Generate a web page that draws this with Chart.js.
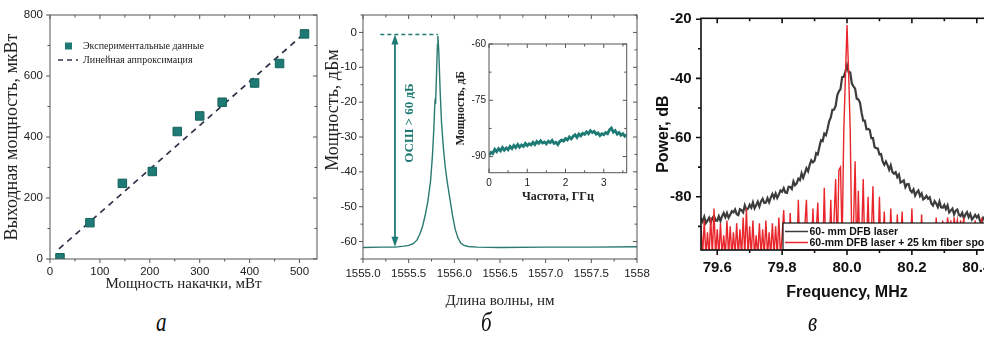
<!DOCTYPE html>
<html>
<head>
<meta charset="utf-8">
<script src="https://cdn.jsdelivr.net/npm/chart.js@4.4.1/dist/chart.umd.min.js"></script>
<style>
  html, body { margin: 0; padding: 0; background: #fff; }
  body { position: relative; width: 984px; height: 349px; overflow: hidden; }
  canvas { position: absolute; }
  .cap { position: absolute; font: italic 27px "Liberation Serif", serif; color: #111;
         transform: scaleX(0.78); transform-origin: left top; }
</style>
</head>
<body>
<canvas id="chartA" style="left:0;top:0" width="330" height="300"></canvas>
<canvas id="chartB" style="left:320px;top:0" width="340" height="315"></canvas>
<canvas id="chartInset" style="left:445px;top:30px" width="190" height="180"></canvas>
<canvas id="chartC" style="left:650px;top:0" width="360" height="310"></canvas>
<div class="cap" style="left:156px;top:307px">а</div>
<div class="cap" style="left:481px;top:307px">б</div>
<div class="cap" style="left:808px;top:307px">в</div>

<script>
// ---- панель а: выходная мощность ----
const pumpPower = [20, 80, 145, 205, 255, 300, 345, 410, 460, 510];
const outputPower = [4, 119, 248, 287, 418, 469, 514, 577, 641, 738];
const fitPump = [18, 510];
const fitOutput = [33, 740];
const ticksAX = [0, 100, 200, 300, 400, 500];
const minorAX = [50, 150, 250, 350, 450];
const ticksAY = [0, 200, 400, 600, 800];
const minorAY = [100, 300, 500, 700];

// ---- панель б: спектр ----
const wavelength = [1555.0, 1555.2, 1555.35, 1555.45, 1555.5, 1555.55, 1555.59, 1555.62, 1555.65, 1555.68,
  1555.71, 1555.74, 1555.76, 1555.775, 1555.785, 1555.79, 1555.795, 1555.805, 1555.815, 1555.82,
  1555.83, 1555.845, 1555.86, 1555.88, 1555.9, 1555.92, 1555.95, 1555.98, 1556.01, 1556.04,
  1556.07, 1556.1, 1556.15, 1556.25, 1556.5, 1557.0, 1557.5, 1558.0];
const spectrumPower = [-61.7, -61.6, -61.6, -61.3, -61.1, -60.6, -59.6, -58.0, -55.8, -52.6,
  -48.5, -42.5, -35.5, -28, -21.5, -19.0, -20.5, -12, -3.5, -1.0,
  -5.5, -17, -26, -33, -38.5, -42.5, -47.5, -52.5, -56.5, -59.0,
  -60.4, -61.0, -61.4, -61.6, -61.7, -61.6, -61.6, -61.5];
const ticksBX = [1555.0, 1555.5, 1556.0, 1556.5, 1557.0, 1557.5, 1558.0];
const labelsBX = ['1555.0', '1555.5', '1556.0', '1556.5', '1557.0', '1557.5', '1558'];
const minorBX = [1555.25, 1555.75, 1556.25, 1556.75, 1557.25, 1557.75];
const ticksBY = [0, -10, -20, -30, -40, -50, -60];
const minorBY = [5, -5, -15, -25, -35, -45, -55, -65];
// стрелка ОСШ
const snrWavelength = 1555.35;
const snrTop = -0.6;
const snrBottom = -61.5;
const snrDashFrom = 1555.19;
const snrDashTo = 1555.82;
const snrLabel = 'ОСШ > 60 дБ';

// вставка: шум
const insetFreqStep = 0.05;
const insetPower = [
  -89.6, -88.9, -89.2, -88.1, -88.7, -87.9, -88.5, -87.6, -88.3, -87.7,
  -88.2, -87.3, -87.9, -87.0, -87.6, -86.8, -87.5, -86.9, -87.3, -86.5,
  -87.1, -86.6, -86.9, -86.2, -86.8, -86.0, -86.5, -85.8, -86.4, -86.1,
  -86.6, -85.9, -86.3, -85.7, -86.5, -86.2, -86.8, -86.0, -85.6, -85.9,
  -85.2, -85.6, -84.8, -85.3, -84.6, -84.2, -84.9, -84.0, -84.5, -83.8,
  -84.1, -83.4, -83.9, -83.1, -83.6, -83.3, -84.0, -83.7, -84.4, -83.9,
  -84.2, -83.6, -83.9, -82.9, -82.4, -83.5, -83.1, -84.0, -83.6, -84.3,
  -83.9, -84.6, -84.2];
const ticksInsetX = [0, 1, 2, 3];
const minorInsetX = [0.5, 1.5, 2.5, 3.5];
const ticksInsetY = [-60, -75, -90];
const minorInsetY = [-67.5, -82.5];

// ---- панель в: спектр биений ----
const freqStart = 79.55;
const freqStep = 0.005;
const powerDFB = [
  -87.3, -88.4, -86.8, -88.9, -88.1, -87.1, -88.8, -87.2, -86.5, -88.0,
  -88.1, -86.6, -88.2, -86.6, -85.5, -86.9, -85.5, -87.1, -86.1, -84.9,
  -85.3, -84.3, -85.9, -86.2, -84.2, -84.5, -85.3, -82.9, -84.4, -84.0,
  -82.7, -83.7, -81.9, -83.9, -82.9, -81.7, -83.3, -81.6, -80.7, -82.1,
  -82.0, -80.5, -81.9, -80.3, -79.1, -80.4, -78.9, -80.4, -79.3, -77.9,
  -78.3, -77.1, -78.6, -78.7, -76.6, -76.7, -77.4, -74.8, -76.1, -75.5,
  -73.9, -74.4, -72.1, -73.6, -72.0, -70.4, -71.4, -69.2, -67.7, -68.4,
  -67.8, -65.3, -65.7, -63.1, -60.9, -61.2, -58.7, -59.2, -57.1, -54.5,
  -53.2, -50.6, -50.6, -49.3, -45.7, -44.4, -43.6, -39.6, -39.5, -37.7,
  -35.6, -37.9, -38.0, -41.8, -42.7, -43.5, -46.9, -47.1, -48.2, -51.6,
  -54.3, -54.3, -57.2, -57.1, -57.4, -60.2, -60.2, -63.2, -63.6, -63.7,
  -65.7, -65.6, -68.1, -69.2, -68.1, -69.3, -70.9, -69.4, -71.7, -72.2,
  -71.7, -73.4, -72.5, -75.2, -74.9, -74.5, -76.8, -75.8, -75.7, -77.8,
  -78.5, -77.5, -79.6, -78.5, -77.9, -79.8, -78.9, -80.9, -80.5, -79.7,
  -80.7, -80.2, -82.3, -83.0, -81.5, -82.3, -83.5, -81.6, -83.6, -83.7,
  -82.8, -84.2, -82.9, -85.3, -84.7, -84.0, -86.0, -84.7, -84.3, -86.1,
  -86.5, -85.4, -87.2, -86.0, -85.2, -86.9, -85.8, -87.7, -87.0, -86.1,
  -87.0, -86.3, -88.2, -88.8, -87.1, -87.7, -88.8, -86.7, -88.5, -88.4,
  -87.4, -88.7, -87.3, -89.6, -88.9, -88.1, -90.0, -88.5, -88.0, -89.7,
  -89.2];
const powerDFBFiber = [
  -90, -100, -88, -100, -92, -100, -87, -100, -84, -100,
  -91, -100, -89, -100, -93, -100, -88, -100, -90, -100,
  -92, -100, -89, -100, -91, -100, -87, -100, -84, -100,
  -90, -100, -88, -100, -93, -100, -89, -100, -91, -100,
  -88, -100, -92, -100, -89, -100, -90, -100, -87, -100,
  -93, -84.5, -99, -95, -100, -85.5, -100, -96, -92, -100,
  -81, -100, -94, -100, -90, -81, -100, -97, -100, -84,
  -100, -92, -82, -100, -95, -100, -77, -100, -91, -100,
  -81, -100, -88, -74, -98, -71, -70, -96, -58, -40,
  -22, -38, -58, -97, -90, -68, -100, -78, -100, -95,
  -74, -100, -97, -80, -100, -93, -76.5, -100, -98, -100,
  -80, -100, -96, -85, -100, -98, -100, -84, -100, -97,
  -100, -86, -100, -96, -85, -100, -99, -100, -97, -100,
  -84, -100, -98, -100, -95, -100, -86, -100, -97, -100,
  -99, -100, -94, -100, -98, -87, -100, -96, -100, -88,
  -100, -95, -87, -92, -88, -98, -87, -91, -88, -97,
  -88, -92, -87, -99, -89, -94, -100, -90, -96, -88,
  -99, -91, -100, -87, -95, -100, -89, -98, -93, -100,
  -90, -99, -94, -88, -100, -92, -97, -89, -100, -95,
  -91];
const ticksCX = [79.6, 79.8, 80.0, 80.2, 80.4];
const minorCX = [79.7, 79.9, 80.1, 80.3];
const ticksCY = [-20, -40, -60, -80];
const minorCY = [-30, -50, -70, -90];

const SANS = '"Liberation Sans", Arial, sans-serif';
const SERIF = '"Liberation Serif", "Times New Roman", serif';
const TEAL = '#1e7a74';

// рамка графика с засечками по всем четырём сторонам
const frameTicks = {
  id: 'frameTicks',
  afterDatasetsDraw(chart, args, o) {
    const { ctx, chartArea: a, scales: { x, y } } = chart;
    const out = o.inward ? -1 : 1;
    ctx.save();
    ctx.strokeStyle = o.color;
    ctx.lineWidth = o.lineWidth;
    ctx.strokeRect(a.left, a.top, a.right - a.left, a.bottom - a.top);
    ctx.beginPath();
    const xMarks = (vals, len) => vals.forEach(v => {
      const px = x.getPixelForValue(v);
      if (px < a.left - 1 || px > a.right + 1) return;
      ctx.moveTo(px, a.bottom); ctx.lineTo(px, a.bottom + out * len);
      ctx.moveTo(px, a.top); ctx.lineTo(px, a.top + len);
    });
    const yMarks = (vals, len) => vals.forEach(v => {
      const py = y.getPixelForValue(v);
      if (py < a.top - 1 || py > a.bottom + 1) return;
      ctx.moveTo(a.left, py); ctx.lineTo(a.left - out * len, py);
      ctx.moveTo(a.right, py); ctx.lineTo(a.right - len, py);
    });
    xMarks(o.xMajor, o.major); xMarks(o.xMinor, o.minor);
    yMarks(o.yMajor, o.major); yMarks(o.yMinor, o.minor);
    ctx.stroke();
    ctx.restore();
  }
};

function fixedTicks(values) {
  return scale => { scale.ticks = values.map(v => ({ value: v })); };
}

function axis(min, max, tickValues, labels, fit, font, pad, title) {
  return {
    type: 'linear', min, max,
    afterBuildTicks: fixedTicks(tickValues),
    afterFit: fit,
    grid: { display: false, drawTicks: false },
    border: { display: false },
    ticks: {
      autoSkip: false, maxRotation: 0, padding: pad, color: '#222',
      font: font,
      callback: (v, i) => labels[i]
    },
    title: title
  };
}

const baseOptions = () => ({
  responsive: false,
  animation: false,
  events: [],
  plugins: { legend: { display: false }, tooltip: { enabled: false } }
});

// ---------- а ----------
const legendA = {
  id: 'legendA',
  afterDraw(chart) {
    const ctx = chart.ctx;
    ctx.save();
    ctx.fillStyle = TEAL;
    ctx.fillRect(65, 42.5, 7, 7);
    ctx.strokeStyle = '#2d3447';
    ctx.lineWidth = 1.6;
    ctx.setLineDash([5, 4]);
    ctx.beginPath(); ctx.moveTo(58, 60); ctx.lineTo(78, 60); ctx.stroke();
    ctx.fillStyle = '#222';
    ctx.font = '10px ' + SERIF;
    ctx.textBaseline = 'middle';
    ctx.fillText('Экспериментальные данные', 83, 46);
    ctx.fillText('Линейная аппроксимация', 83, 60);
    ctx.restore();
  }
};

const optA = baseOptions();
optA.layout = { padding: { top: 15, right: 13, left: 0, bottom: 0 } };
optA.plugins.frameTicks = { color: '#555', lineWidth: 1, major: 4, minor: 2.5,
  xMajor: ticksAX, xMinor: minorAX, yMajor: ticksAY, yMinor: minorAY };
optA.scales = {
  x: axis(0, 535, ticksAX, ticksAX.map(String), s => { s.height = 41; },
    { family: SANS, size: 11.5 }, 6,
    { display: true, text: 'Мощность накачки, мВт', color: '#222',
      font: { family: SERIF, size: 15 }, padding: { top: 0, bottom: 7 } }),
  y: axis(0, 800, ticksAY, ticksAY.map(String), s => { s.width = 50; },
    { family: SANS, size: 11.5 }, 7,
    { display: true, text: 'Выходная мощность, мкВт', color: '#222',
      font: { family: SERIF, size: 18 }, padding: { top: 1, bottom: 0 } })
};

new Chart(document.getElementById('chartA'), {
  type: 'scatter',
  data: {
    datasets: [
      {
        label: 'Экспериментальные данные',
        data: pumpPower.map((p, i) => ({ x: p, y: outputPower[i] })),
        pointStyle: 'rect', pointRadius: 6,
        backgroundColor: TEAL, borderColor: '#17625d', borderWidth: 1
      },
      {
        type: 'line',
        label: 'Линейная аппроксимация',
        data: fitPump.map((p, i) => ({ x: p, y: fitOutput[i] })),
        borderColor: '#2d3447', borderWidth: 1.7, borderDash: [6, 5],
        pointRadius: 0, fill: false
      }
    ]
  },
  options: optA,
  plugins: [frameTicks, legendA]
});

// ---------- б ----------
const snrMarks = {
  id: 'snrMarks',
  afterDatasetsDraw(chart) {
    const { ctx, scales: { x, y } } = chart;
    const ax = x.getPixelForValue(snrWavelength);
    const top = y.getPixelForValue(snrTop);
    const bottom = y.getPixelForValue(snrBottom);
    ctx.save();
    ctx.strokeStyle = TEAL;
    ctx.fillStyle = TEAL;
    ctx.lineWidth = 1.4;
    ctx.setLineDash([4, 3]);
    ctx.beginPath();
    ctx.moveTo(x.getPixelForValue(snrDashFrom), top);
    ctx.lineTo(x.getPixelForValue(snrDashTo), top);
    ctx.stroke();
    ctx.setLineDash([]);
    ctx.lineWidth = 1.8;
    ctx.beginPath(); ctx.moveTo(ax, top + 6); ctx.lineTo(ax, bottom - 6); ctx.stroke();
    [[top, 1], [bottom, -1]].forEach(([py, d]) => {
      ctx.beginPath();
      ctx.moveTo(ax, py);
      ctx.lineTo(ax - 3.5, py + 10 * d);
      ctx.lineTo(ax + 3.5, py + 10 * d);
      ctx.closePath();
      ctx.fill();
    });
    ctx.save();
    ctx.translate(x.getPixelForValue(1555.51), y.getPixelForValue(-26));
    ctx.rotate(-Math.PI / 2);
    ctx.font = 'bold 13px ' + SERIF;
    ctx.textAlign = 'center';
    ctx.textBaseline = 'middle';
    ctx.fillText(snrLabel, 0, 0);
    ctx.restore();
    // подпись оси Y
    ctx.translate(13, 110);
    ctx.rotate(-Math.PI / 2);
    ctx.fillStyle = '#222';
    ctx.font = '18px ' + SERIF;
    ctx.textAlign = 'center';
    ctx.textBaseline = 'middle';
    ctx.fillText('Мощность, дБм', 0, 0);
    ctx.restore();
  }
};

const optB = baseOptions();
optB.layout = { padding: { top: 15, right: 23, left: 0, bottom: 0 } };
optB.plugins.frameTicks = { color: '#555', lineWidth: 1, major: 4, minor: 2.5,
  xMajor: ticksBX, xMinor: minorBX, yMajor: ticksBY, yMinor: minorBY };
optB.scales = {
  x: axis(1555, 1558, ticksBX, labelsBX, s => { s.height = 56; },
    { family: SANS, size: 11.5 }, 8,
    { display: true, text: 'Длина волны, нм', color: '#222',
      font: { family: SERIF, size: 15 }, padding: { top: 0, bottom: 5 } }),
  y: axis(-65, 5, ticksBY, ticksBY.map(String), s => { s.width = 43; },
    { family: SANS, size: 11.5 }, 6, { display: false })
};

new Chart(document.getElementById('chartB'), {
  type: 'line',
  data: {
    datasets: [{
      data: wavelength.map((w, i) => ({ x: w, y: spectrumPower[i] })),
      borderColor: '#2a7a72', borderWidth: 1.4, pointRadius: 0, tension: 0, fill: false
    }]
  },
  options: optB,
  plugins: [frameTicks, snrMarks]
});

// вставка
const optInset = baseOptions();
optInset.layout = { padding: { top: 14, right: 8.3, left: 0, bottom: 0 } };
optInset.plugins.frameTicks = { color: '#555', lineWidth: 1, major: 4, minor: 2.5, inward: true,
  xMajor: ticksInsetX, xMinor: minorInsetX, yMajor: ticksInsetY, yMinor: minorInsetY };
optInset.scales = {
  x: axis(0, 3.6, ticksInsetX, ticksInsetX.map(String), s => { s.height = 37.3; },
    { family: SANS, size: 10 }, 4.5,
    { display: true, text: 'Частота, ГГц', color: '#222',
      font: { family: SERIF, size: 12, weight: 'bold' }, padding: { top: 0, bottom: 6 } }),
  y: axis(-94.3, -60, ticksInsetY, ticksInsetY.map(String), s => { s.width = 44; },
    { family: SANS, size: 10 }, 3,
    { display: true, text: 'Мощность, дБ', color: '#222',
      font: { family: SERIF, size: 11.5, weight: 'bold' }, padding: { top: 9.5, bottom: 0 } })
};

new Chart(document.getElementById('chartInset'), {
  type: 'line',
  data: {
    datasets: [{
      data: insetPower.map((p, i) => ({ x: i * insetFreqStep, y: p })),
      borderColor: TEAL, borderWidth: 2.8, pointRadius: 0, tension: 0, fill: false
    }]
  },
  options: optInset,
  plugins: [frameTicks]
});

// ---------- в ----------
const legendC = {
  id: 'legendC',
  afterDatasetsDraw(chart) {
    const { ctx, chartArea: a } = chart;
    const left = 133, top = 223;
    ctx.save();
    ctx.fillStyle = '#fff';
    ctx.fillRect(left, top, a.right + 20 - left, a.bottom - top - 1);
    ctx.strokeStyle = '#111';
    ctx.lineWidth = 1.2;
    ctx.strokeRect(left, top, a.right + 20 - left, a.bottom - top);
    const rows = [
      ['#3c3c3c', '60- mm DFB laser', 231.5],
      ['#e8262b', '60-mm DFB laser + 25 km fiber spool', 242.5]
    ];
    ctx.font = 'bold 10.5px ' + SANS;
    ctx.textBaseline = 'middle';
    rows.forEach(([color, text, yy]) => {
      ctx.strokeStyle = color;
      ctx.lineWidth = 1.5;
      ctx.beginPath(); ctx.moveTo(135, yy); ctx.lineTo(158, yy); ctx.stroke();
      ctx.fillStyle = '#111';
      ctx.fillText(text, 159.5, yy + 0.5);
    });
    ctx.restore();
  }
};

const optC = baseOptions();
optC.layout = { padding: { top: 18, right: 17, left: 0, bottom: 0 } };
optC.plugins.frameTicks = { color: '#111', lineWidth: 1.6, major: 5, minor: 3,
  xMajor: ticksCX, xMinor: minorCX, yMajor: ticksCY, yMinor: minorCY };
const boldC = { family: SANS, size: 15, weight: 'bold' };
optC.scales = {
  x: axis(79.55, 80.45, ticksCX, ticksCX.map(v => v.toFixed(1)), s => { s.height = 60; },
    boldC, 9,
    { display: true, text: 'Frequency, MHz', color: '#111',
      font: { family: SANS, size: 16, weight: 'bold' }, padding: { top: 0, bottom: 7.4 } }),
  y: axis(-98, -19.7, ticksCY, ticksCY.map(String), s => { s.width = 51; },
    boldC, 9.3,
    { display: true, text: 'Power, dB', color: '#111',
      font: { family: SANS, size: 16, weight: 'bold' }, padding: { top: 3.7, bottom: 0 } })
};
optC.scales.x.ticks.color = '#111';
optC.scales.y.ticks.color = '#111';

new Chart(document.getElementById('chartC'), {
  type: 'line',
  data: {
    datasets: [
      {
        label: '60-mm DFB laser + 25 km fiber spool',
        data: powerDFBFiber.map((p, i) => ({ x: freqStart + i * freqStep, y: p })),
        borderColor: '#e8262b', borderWidth: 1.4, pointRadius: 0, tension: 0, fill: false
      },
      {
        label: '60- mm DFB laser',
        data: powerDFB.map((p, i) => ({ x: freqStart + i * freqStep, y: p })),
        borderColor: '#3c3c3c', borderWidth: 2.2, pointRadius: 0, tension: 0, fill: false
      }
    ]
  },
  options: optC,
  plugins: [frameTicks, legendC]
});
</script>
</body>
</html>
